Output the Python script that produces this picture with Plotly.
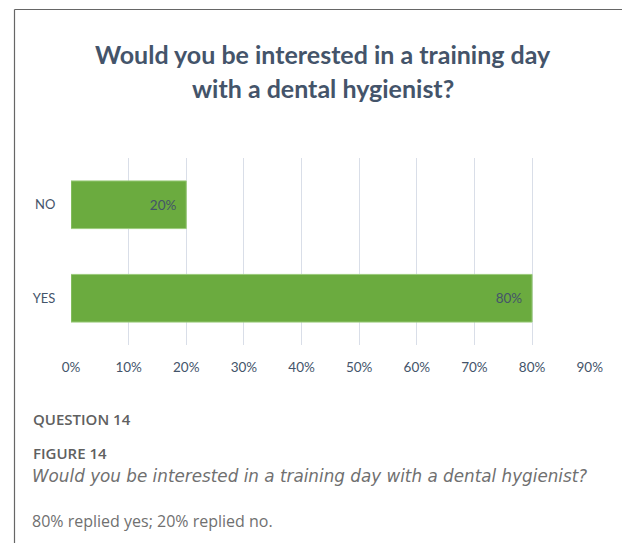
import plotly.graph_objects as go

# data
answers = ["YES", "NO"]
shares = [80, 20]
tick_vals = [0, 10, 20, 30, 40, 50, 60, 70, 80, 90]
tick_text = [f"{v}%" for v in tick_vals]

title_lines = ["Would you be interested in a training day", "with a dental hygienist?"]
caption_label = "QUESTION 14"
figure_label = "FIGURE 14"
figure_caption = "Would you be interested in a training day with a dental hygienist?"
figure_note = "80% replied yes; 20% replied no."

W, H = 622, 543
L, R, T, B = 71, 32, 158, 198
PW, PH = W - L - R, H - T - B

def px_x(p):
    return (p - L) / PW

def px_y(p):
    return (H - B - p) / PH

slate = "#44546A"
caption_grey = "#707070"

fig = go.Figure(go.Bar(
    x=shares, y=answers, orientation="h",
    marker=dict(color="#6BAB3F", line=dict(color="#9CCB7C", width=1)),
    text=[f"{v}%\u00a0\u00a0" for v in shares],
    textposition="inside", insidetextanchor="end",
    textfont=dict(family="Lato", size=13.5, color=slate),
    width=0.51,
))

fig.update_xaxes(
    range=[0, 90.05], tickvals=tick_vals, ticktext=tick_text,
    showgrid=True, gridcolor="#D9DEE8", gridwidth=1,
    zeroline=False, showline=False,
    ticks="outside", ticklen=10, tickcolor="rgba(0,0,0,0)",
    tickfont=dict(family="Lato", size=13.5, color=slate),
)
fig.update_yaxes(
    categoryorder="array", categoryarray=answers, range=[-0.5, 1.5],
    showgrid=False, zeroline=False, showline=False,
    ticks="outside", ticklen=12, tickcolor="rgba(0,0,0,0)",
    tickfont=dict(family="Lato", size=13, color=slate),
)

ann = []
for line, yy in zip(title_lines, [54, 88]):
    ann.append(dict(text=f"<b>{line}</b>", x=px_x(323), y=px_y(yy), xref="paper", yref="paper",
                    xanchor="center", yanchor="middle", showarrow=False,
                    font=dict(family="Lato", size=25, color=slate)))
for txt, yy in [(caption_label, 419), (figure_label, 453)]:
    ann.append(dict(text=txt, x=px_x(31), y=px_y(yy), xref="paper", yref="paper",
                    xanchor="left", yanchor="middle", showarrow=False,
                    font=dict(family="Open Sans", size=15, color="#606060", weight=600)))
ann.append(dict(text=f"<i>{figure_caption}</i>", x=px_x(30), y=px_y(476), xref="paper", yref="paper",
                xanchor="left", yanchor="middle", showarrow=False,
                font=dict(family="DejaVu Sans", size=16.8, color=caption_grey)))
ann.append(dict(text=figure_note, x=px_x(30), y=px_y(521), xref="paper", yref="paper",
                xanchor="left", yanchor="middle", showarrow=False,
                font=dict(family="Open Sans", size=16, color=caption_grey)))

shapes = [
    dict(type="line", xref="paper", yref="paper", x0=px_x(14.5), x1=px_x(W + 2),
         y0=px_y(9.5), y1=px_y(9.5), line=dict(color="#666666", width=1.2)),
    dict(type="line", xref="paper", yref="paper", x0=px_x(14.5), x1=px_x(14.5),
         y0=px_y(9.5), y1=px_y(H + 2), line=dict(color="#666666", width=1.2)),
]

fig.update_layout(
    width=W, height=H,
    margin=dict(l=L, r=R, t=T, b=B, autoexpand=False),
    paper_bgcolor="white", plot_bgcolor="white",
    showlegend=False, annotations=ann, shapes=shapes,
    font=dict(family="Lato"),
)

fig.write_html("out.html", config={"displayModeBar": False},
               post_script="document.body.style.margin='0';")
